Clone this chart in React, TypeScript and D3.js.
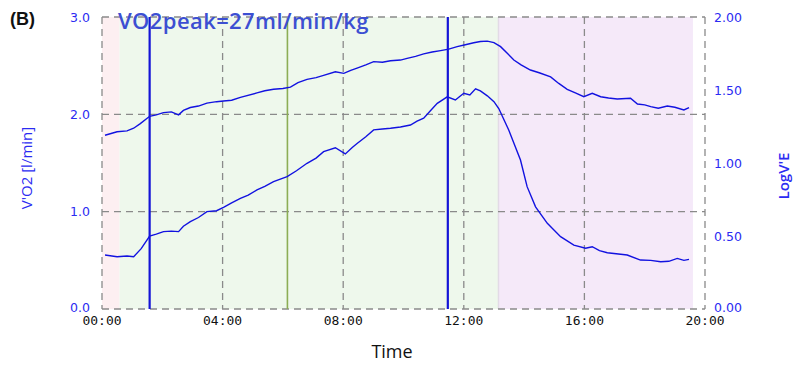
import React from "react";
import * as d3 from "d3";

// time in minutes
const logveTime = [0.1, 0.5, 0.83, 1.05, 1.27, 1.58, 1.8, 2.04, 2.3, 2.54, 2.7, 2.93, 3.2, 3.48, 3.8, 4.03, 4.3, 4.59, 5.14, 5.4, 5.69, 6.0, 6.25, 6.5, 6.8, 7.1, 7.35, 7.74, 8.02, 8.25, 8.46, 8.75, 9.01, 9.3, 9.57, 9.9, 10.12, 10.4, 10.67, 10.95, 11.23, 11.5, 11.78, 12.05, 12.33, 12.55, 12.78, 13.0, 13.22, 13.45, 13.66, 13.9, 14.21, 14.5, 14.88, 15.15, 15.43, 15.7, 15.98, 16.26, 16.54, 16.8, 17.09, 17.53, 17.76, 18.0, 18.2, 18.45, 18.75, 19.0, 19.3, 19.47];
const logveValues = [1.19, 1.214, 1.22, 1.238, 1.27, 1.32, 1.33, 1.345, 1.35, 1.33, 1.36, 1.38, 1.39, 1.41, 1.42, 1.425, 1.43, 1.45, 1.48, 1.495, 1.505, 1.51, 1.52, 1.55, 1.573, 1.585, 1.6, 1.625, 1.614, 1.635, 1.65, 1.672, 1.694, 1.69, 1.7, 1.705, 1.717, 1.73, 1.747, 1.76, 1.77, 1.78, 1.797, 1.81, 1.824, 1.832, 1.835, 1.825, 1.797, 1.75, 1.705, 1.672, 1.637, 1.618, 1.59, 1.545, 1.505, 1.48, 1.454, 1.477, 1.454, 1.445, 1.438, 1.443, 1.404, 1.398, 1.386, 1.375, 1.39, 1.382, 1.363, 1.38];

const vo2Time = [0.1, 0.5, 0.83, 1.05, 1.3, 1.58, 1.8, 2.04, 2.3, 2.54, 2.7, 2.93, 3.2, 3.48, 3.8, 4.03, 4.3, 4.59, 4.85, 5.14, 5.4, 5.69, 6.14, 6.45, 6.8, 7.1, 7.35, 7.74, 8.07, 8.3, 8.46, 8.75, 9.01, 9.3, 9.57, 9.9, 10.23, 10.45, 10.67, 10.9, 11.12, 11.45, 11.72, 12.0, 12.2, 12.39, 12.55, 12.78, 13.0, 13.16, 13.49, 13.88, 14.1, 14.38, 14.77, 15.21, 15.65, 16.04, 16.26, 16.5, 16.76, 17.42, 17.86, 18.2, 18.53, 18.8, 19.08, 19.3, 19.47];
const vo2Values = [0.555, 0.537, 0.545, 0.537, 0.62, 0.75, 0.77, 0.795, 0.8, 0.795, 0.85, 0.897, 0.94, 1.0, 1.01, 1.045, 1.09, 1.137, 1.17, 1.223, 1.26, 1.308, 1.36, 1.42, 1.497, 1.55, 1.616, 1.657, 1.593, 1.66, 1.7, 1.77, 1.84, 1.85, 1.857, 1.87, 1.89, 1.93, 1.96, 2.04, 2.113, 2.18, 2.147, 2.216, 2.2, 2.262, 2.24, 2.19, 2.13, 2.06, 1.84, 1.53, 1.257, 1.05, 0.88, 0.743, 0.657, 0.624, 0.64, 0.6, 0.578, 0.555, 0.503, 0.5, 0.486, 0.49, 0.52, 0.5, 0.51];

// phase bands (minutes)
const bandStarts = [0, 0.58, 13.15];
const bandEnds = [0.58, 13.15, 19.6];
const bandColors = ["#fdeff1", "#eef8ec", "#f5e9f9"];

// event markers (minutes)
const markerTimes = [1.58, 6.15, 11.47];
const markerColors = ["#1414d6", "#8cad55", "#1414d6"];

const xTicks = [0, 4, 8, 12, 16, 20];
const leftTicks = [0, 1, 2, 3];
const rightTicks = [0, 0.5, 1, 1.5, 2];

const W = 796;
const H = 368;
const m = { left: 102, right: 705, top: 17, bottom: 309 };

const fmtTime = (t: number) => `${String(t).padStart(2, "0")}:00`;

export default function App() {
  const x = d3.scaleLinear().domain([0, 20]).range([m.left, m.right]);
  const yL = d3.scaleLinear().domain([0, 3]).range([m.bottom, m.top]);
  const yR = d3.scaleLinear().domain([0, 2]).range([m.bottom, m.top]);

  const lineR = d3.line<number>().x((_, i) => x(logveTime[i])).y((d) => yR(d));
  const lineL = d3.line<number>().x((_, i) => x(vo2Time[i])).y((d) => yL(d));

  const grid = { stroke: "#8a8a8a", strokeWidth: 1.3, strokeDasharray: "7,5" };
  const blue = "#2b2bf2";

  return (
    <svg width={W} height={H} style={{ position: "absolute", left: 0, top: 0, background: "#fff" }}>
      {/* bands */}
      {bandStarts.map((s, i) => (
        <rect key={i} x={x(s)} y={m.top} width={x(bandEnds[i]) - x(s)} height={m.bottom - m.top} fill={bandColors[i]} />
      ))}
      <line x1={x(bandStarts[2])} x2={x(bandStarts[2])} y1={m.top} y2={m.bottom} stroke="#e2dbe6" strokeWidth={1.5} />

      {/* grid */}
      {xTicks.map((t) => (
        <line key={"gx" + t} x1={x(t)} x2={x(t)} y1={m.top} y2={m.bottom} {...grid} />
      ))}
      {leftTicks.map((v) => (
        <line key={"gy" + v} x1={m.left} x2={m.right} y1={yL(v)} y2={yL(v)} {...grid} />
      ))}

      {/* markers */}
      {markerTimes.map((t, i) => (
        <line key={"mk" + i} x1={x(t)} x2={x(t)} y1={m.top} y2={m.bottom} stroke={markerColors[i]} strokeWidth={i === 1 ? 1.6 : 2.2} />
      ))}

      {/* series */}
      <path d={lineR(logveValues) || ""} fill="none" stroke="#1212e0" strokeWidth={1.4} />
      <path d={lineL(vo2Values) || ""} fill="none" stroke="#1212e0" strokeWidth={1.4} />

      {/* left axis */}
      {leftTicks.map((v) => (
        <text key={"lt" + v} x={90} y={v === 0 ? yL(v) + 2.5 : yL(v) + 4.5} textAnchor="end" fontFamily="DejaVu Sans" fontSize={12.5} fill={blue}>
          {v.toFixed(1)}
        </text>
      ))}
      {/* right axis */}
      {rightTicks.map((v) => (
        <text key={"rt" + v} x={714} y={v === 0 ? yR(v) + 2.5 : yR(v) + 4.5} fontFamily="DejaVu Sans" fontSize={12.5} fill={blue}>
          {v.toFixed(2)}
        </text>
      ))}
      {/* x axis */}
      {xTicks.map((t) => (
        <text key={"xt" + t} x={x(t)} y={325} textAnchor="middle" fontFamily="DejaVu Sans Mono" fontSize={13} fill="#111">
          {fmtTime(t)}
        </text>
      ))}

      <text x={392} y={358} textAnchor="middle" fontFamily="Open Sans" fontSize={18} fill="#111">Time</text>
      <text transform={`translate(32,168) rotate(-90)`} textAnchor="middle" fontFamily="Open Sans" fontSize={15} fill={blue}>V'O2 [l/min]</text>
      <text transform={`translate(789,176) rotate(-90)`} textAnchor="middle" fontFamily="Open Sans" fontSize={15} fontWeight={600} fill={blue}>LogV'E</text>

      <text x={10} y={25} fontFamily="Liberation Sans" fontWeight="bold" fontSize={18} fill="#111">(B)</text>
      <text x={118} y={29} fontFamily="Open Sans" fontWeight={600} fontSize={22} letterSpacing={0.4} fill="#3c4fd2">VO2peak=27ml/min/kg</text>
    </svg>
  );
}
